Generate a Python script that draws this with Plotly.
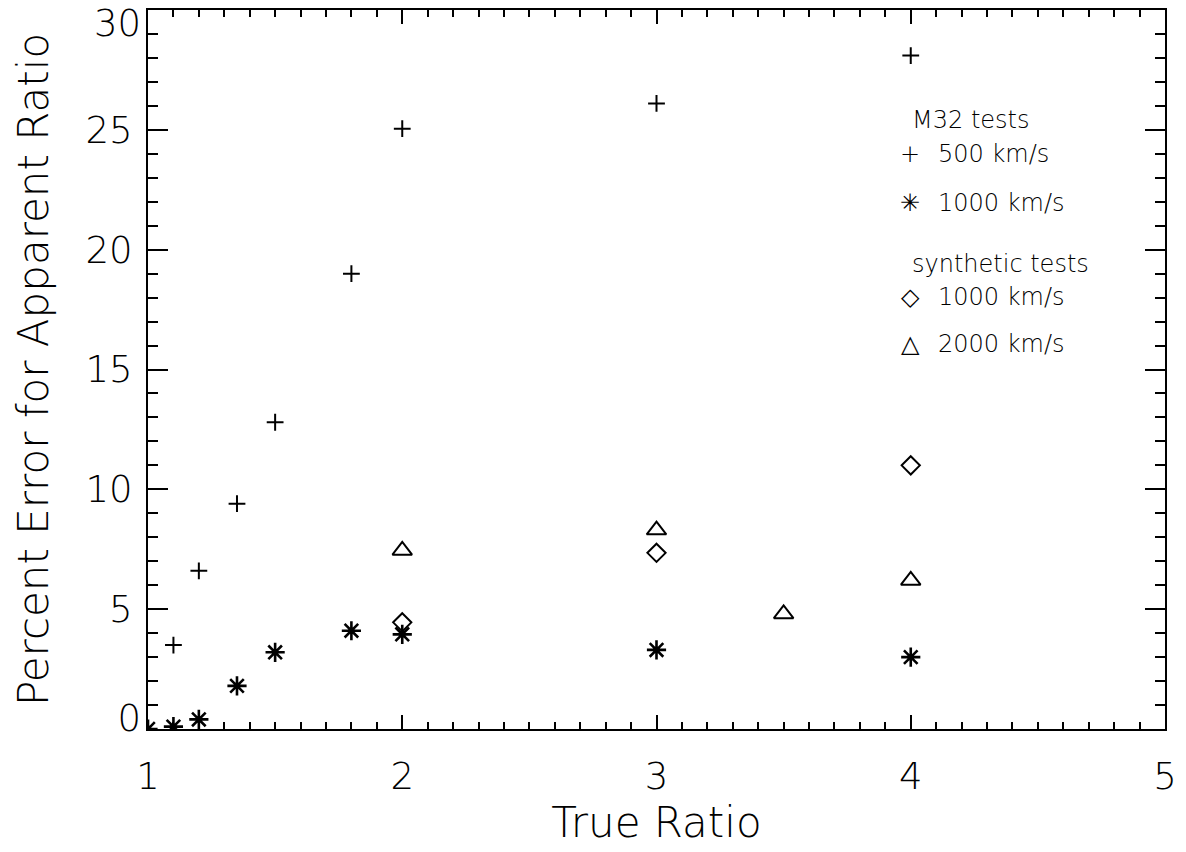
import plotly.graph_objects as go

# ---- data ----
ratio_m32_500 = [1.1, 1.2, 1.35, 1.5, 1.8, 2.0, 3.0, 4.0]
err_m32_500 = [3.5, 6.6, 9.4, 12.8, 19.0, 25.05, 26.1, 28.1]

ratio_m32_1000 = [1.0, 1.1, 1.2, 1.35, 1.5, 1.8, 2.0, 3.0, 4.0]
err_m32_1000 = [0.0, 0.1, 0.4, 1.8, 3.2, 4.1, 3.95, 3.3, 3.0]

ratio_syn_1000 = [2.0, 3.0, 4.0]
err_syn_1000 = [4.45, 7.35, 11.0]

ratio_syn_2000 = [2.0, 3.0, 3.5, 4.0]
err_syn_2000 = [7.45, 8.3, 4.8, 6.2]

x_tickvals = [1, 2, 3, 4, 5]
x_ticktext = ["1", "2", "3", "4", "5"]
y_tickvals = [0, 5, 10, 15, 20, 25, 30]
y_ticktext = ["", "5", "10", "15", "20", "25", ""]
y_top_val, y_top_text = [30], ["30"]
y_bot_val, y_bot_text = [0], ["0"]

FONT = "DejaVu Sans ExtraLight, DejaVu Sans"
TICKSIZE = 37
TITLESIZE = 42
LEG = 24
W = 200

fig = go.Figure()

def add(xs, ys, symbol, size, lw, name):
    fig.add_trace(go.Scatter(
        x=xs, y=ys, mode="markers", name=name, showlegend=False,
        marker=dict(symbol=symbol, size=size, color="black",
                    line=dict(color="black", width=lw)),
        cliponaxis=True,
    ))

add(ratio_m32_500, err_m32_500, "cross-thin-open", 12, 2, "M32 500 km/s")
add(ratio_m32_1000, err_m32_1000, "asterisk-open", 16, 2.6, "M32 1000 km/s")
add(ratio_syn_1000, err_syn_1000, "diamond-open", 14, 2, "synthetic 1000 km/s")
add(ratio_syn_2000, err_syn_2000, "triangle-up-open", 17, 2, "synthetic 2000 km/s")

# empty helper traces so the overlay label axes are drawn
fig.add_trace(go.Scatter(x=[], y=[], yaxis="y2", showlegend=False, hoverinfo="skip"))
fig.add_trace(go.Scatter(x=[], y=[], yaxis="y3", showlegend=False, hoverinfo="skip"))

tickfont = dict(family=FONT, size=TICKSIZE, color="black", weight=W)
axis_common = dict(
    showline=True, linecolor="black", linewidth=2, mirror="ticks",
    ticks="inside", tickwidth=2, tickcolor="black",
    showgrid=False, zeroline=False, tickfont=tickfont, automargin=False,
)

fig.update_layout(
    xaxis=dict(
        range=[1, 5], tickmode="array", tickvals=x_tickvals, ticktext=x_ticktext,
        ticklen=14,
        minor=dict(dtick=0.1, tick0=1, ticklen=7, tickwidth=2, ticks="inside",
                   tickcolor="black", showgrid=False),
        ticklabelstandoff=14,
        title=dict(text="True Ratio",
                   font=dict(family=FONT, size=TITLESIZE, color="black", weight=W),
                   standoff=0),
        **axis_common,
    ),
    yaxis=dict(
        range=[0, 30], tickmode="array", tickvals=y_tickvals, ticktext=y_ticktext,
        ticklen=20,
        minor=dict(dtick=1, tick0=0, ticklen=10, tickwidth=2, ticks="inside",
                   tickcolor="black", showgrid=False),
        ticklabelstandoff=6,
        title=dict(text="Percent Error for Apparent Ratio",
                   font=dict(family=FONT, size=TITLESIZE, color="black", weight=W),
                   standoff=24),
        **axis_common,
    ),
    yaxis2=dict(
        overlaying="y", anchor="x", side="left", range=[0, 30],
        tickmode="array", tickvals=y_top_val, ticktext=y_top_text,
        ticks="inside", ticklen=20, tickcolor="rgba(0,0,0,0)",
        showline=False, showgrid=False, zeroline=False, automargin=False,
        ticklabelstandoff=6, ticklabelshift=13, ticklabeloverflow="allow",
        tickfont=tickfont,
    ),
    yaxis3=dict(
        overlaying="y", anchor="x", side="left", range=[0, 30],
        tickmode="array", tickvals=y_bot_val, ticktext=y_bot_text,
        ticks="inside", ticklen=20, tickcolor="rgba(0,0,0,0)",
        showline=False, showgrid=False, zeroline=False, automargin=False,
        ticklabelstandoff=6, ticklabelshift=-11, ticklabeloverflow="allow",
        tickfont=tickfont,
    ),
)

# legend (as text)
L, PW, PH, B = 148, 1017, 719, 729
def px(x):
    return (x - L) / PW
def py(y):
    return (B - y) / PH

legend_items = [
    (None, "M32 tests", 120),
    ("+", "500 km/s", 154),
    ("\u2733", "1000 km/s", 203),
    (None, "synthetic tests", 264),
    ("\u25C7", "1000 km/s", 297),
    ("\u25B3", "2000 km/s", 344),
]
lfont = dict(family=FONT, size=LEG, color="black", weight=W)
for sym, txt, yc in legend_items:
    if sym is None:
        fig.add_annotation(x=px(910), y=py(yc), xref="paper", yref="paper",
                           text=txt, showarrow=False, xanchor="left", yanchor="middle",
                           font=lfont)
    else:
        fig.add_annotation(x=px(910), y=py(yc), xref="paper", yref="paper",
                           text=sym, showarrow=False, xanchor="center", yanchor="middle",
                           font=lfont)
        fig.add_annotation(x=px(936), y=py(yc), xref="paper", yref="paper",
                           text=txt, showarrow=False, xanchor="left", yanchor="middle",
                           font=lfont)

fig.update_layout(
    width=1186, height=852,
    margin=dict(l=148, r=21, t=10, b=123, autoexpand=False),
    paper_bgcolor="white", plot_bgcolor="white",
    showlegend=False,
    font=dict(family=FONT, color="black"),
)

fig.write_html("out.html")
